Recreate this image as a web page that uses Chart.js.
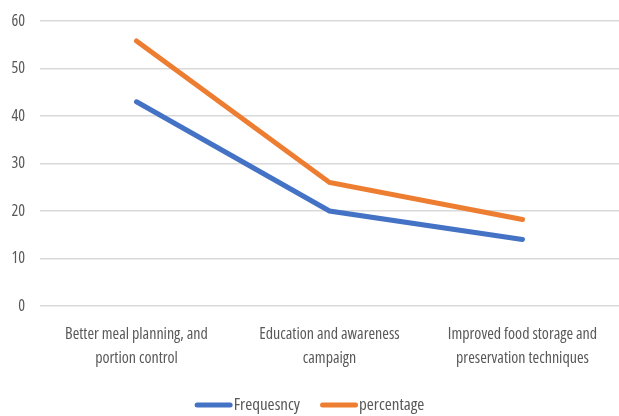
<!DOCTYPE html>
<html>
<head>
<meta charset="utf-8">
<script src="https://cdn.jsdelivr.net/npm/chart.js@4/dist/chart.umd.min.js"></script>
<style>
  html, body { margin: 0; padding: 0; background: #ffffff; }
  #wrap { width: 619px; height: 416px; position: relative; }
</style>
</head>
<body>
<div id="wrap"><canvas id="c" width="619" height="416"></canvas></div>
<script>
// Categories (multi-line labels) and series values
const categories = [
  ['Better meal planning, and', 'portion control'],
  ['Education and awareness', 'campaign'],
  ['Improved food storage and', 'preservation techniques']
];
const frequencyValues = [43, 20, 14];
const percentageValues = [55.8, 26.0, 18.2];
const seriesNames = ['Frequesncy', 'percentage'];
const seriesColors = ['#4472C4', '#ED7D31'];
const yTicks = [0, 10, 20, 30, 40, 50, 60];

const FAMILY = "'Open Sans', sans-serif";
// weight + stretch keywords, so the canvas picks the condensed face
const WEIGHT = 'normal condensed';
const TEXT = '#595959';

// Legend drawn as a centred row: thick rounded line swatch, then the series name
const lineLegend = {
  id: 'lineLegend',
  afterDraw(chart) {
    const ctx = chart.ctx;
    const y = 405;
    const swatch = 38, gap = 1, itemGap = 20;
    ctx.save();
    ctx.font = `${WEIGHT} 17px ${FAMILY}`;
    const items = chart.data.datasets.map(ds => ({
      text: ds.label, color: ds.borderColor, w: ctx.measureText(ds.label).width
    }));
    const total = items.reduce((s, it) => s + swatch + gap + it.w, 0) + itemGap * (items.length - 1);
    let x = (chart.width - total) / 2;
    ctx.textBaseline = 'middle';
    ctx.textAlign = 'left';
    items.forEach(it => {
      ctx.strokeStyle = it.color;
      ctx.lineWidth = 5;
      ctx.lineCap = 'round';
      ctx.beginPath();
      ctx.moveTo(x + 2.5, y);
      ctx.lineTo(x + swatch - 2.5, y);
      ctx.stroke();
      ctx.fillStyle = TEXT;
      ctx.fillText(it.text, x + swatch + gap, y);
      x += swatch + gap + it.w + itemGap;
    });
    ctx.restore();
  }
};

new Chart(document.getElementById('c'), {
  type: 'line',
  data: {
    labels: categories,
    datasets: [
      {
        label: seriesNames[0],
        data: frequencyValues,
        borderColor: seriesColors[0],
        backgroundColor: seriesColors[0],
        borderWidth: 5,
        pointRadius: 0,
        borderCapStyle: 'round',
        tension: 0
      },
      {
        label: seriesNames[1],
        data: percentageValues,
        borderColor: seriesColors[1],
        backgroundColor: seriesColors[1],
        borderWidth: 5,
        pointRadius: 0,
        borderCapStyle: 'round',
        tension: 0
      }
    ]
  },
  plugins: [lineLegend],
  options: {
    responsive: false,
    animation: false,
    layout: { padding: { left: 10, right: 0, top: 21, bottom: 30 } },
    plugins: {
      tooltip: { enabled: false },
      legend: { display: false }
    },
    scales: {
      x: {
        offset: true,
        grid: { display: false, drawTicks: false },
        border: { display: false },
        ticks: {
          color: TEXT,
          font: { family: FAMILY, weight: WEIGHT, size: 16, lineHeight: 1.5 },
          maxRotation: 0,
          autoSkip: false,
          padding: 16
        }
      },
      y: {
        min: 0,
        max: 60,
        afterBuildTicks: (axis) => { axis.ticks = yTicks.map(v => ({ value: v })); },
        // narrow axis column, no extra room above the top tick
        afterFit: (scale) => { scale.width = 30; scale.paddingTop = 0; scale.paddingBottom = 0; },
        grid: { color: '#d9d9d9', lineWidth: 1.5, drawTicks: false },
        border: { display: false },
        ticks: {
          color: TEXT,
          font: { family: FAMILY, weight: WEIGHT, size: 16 },
          padding: 15
        }
      }
    }
  }
});
</script>
</body>
</html>
